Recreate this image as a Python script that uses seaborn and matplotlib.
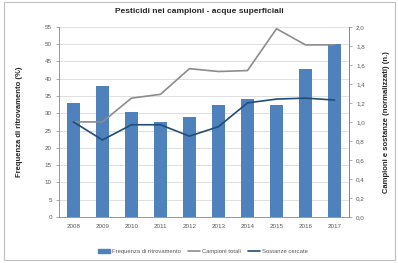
import numpy as np
import pandas as pd
import seaborn as sns
import matplotlib.pyplot as plt
from matplotlib.patches import Rectangle
from matplotlib.lines import Line2D
from matplotlib.patches import Patch

# Dati
anni = ["2008", "2009", "2010", "2011", "2012", "2013", "2014", "2015", "2016", "2017"]
frequenza = [33.1, 37.8, 30.5, 27.4, 28.8, 32.4, 34.0, 32.5, 42.8, 50.1]
campioni_totali = [1.00, 1.00, 1.25, 1.29, 1.56, 1.53, 1.54, 1.98, 1.81, 1.81]
sostanze_cercate = [1.00, 0.81, 0.97, 0.97, 0.85, 0.95, 1.20, 1.24, 1.25, 1.23]

df = pd.DataFrame({"anno": anni, "frequenza": frequenza,
                   "campioni": campioni_totali, "sostanze": sostanze_cercate})
df["pos"] = np.arange(len(df))

sns.set_style("white")
plt.rcParams["font.family"] = ["Liberation Sans", "DejaVu Sans"]

bar_col = "#4F81BD"
grey_col = "#8C8C8C"
dark_col = "#1F4E79"
tick_col = "#595959"

fig = plt.figure(figsize=(3.98, 2.63), dpi=100)
ax = fig.add_axes([0.148, 0.175, 0.729, 0.723])

# Griglia orizzontale
for v in range(5, 60, 5):
    ax.axhline(v, color="#D9D9D9", lw=0.6, zorder=0)

sns.barplot(data=df, x="anno", y="frequenza", color=bar_col, width=0.43,
            saturation=1, linewidth=0, ax=ax, zorder=2)
ax.set_ylim(0, 55)
ax.set_yticks(range(0, 60, 5))
ax.set_xlim(-0.5, len(anni) - 0.5)
ax.set_xlabel("")
ax.set_ylabel("Frequenza di ritrovamento (%)", fontsize=5.5, fontweight="bold", labelpad=16)
ax.tick_params(axis="both", labelsize=4.5, colors="#888888", labelcolor=tick_col,
               length=2, width=0.5, pad=3)
ax.set_xticks(np.arange(len(anni)))
ax.set_xticklabels(anni)
ax.spines["top"].set_visible(False)
for s in ["left", "bottom", "right"]:
    ax.spines[s].set_color("#888888")
    ax.spines[s].set_linewidth(0.6)

ax2 = ax.twinx()
sns.lineplot(data=df, x="pos", y="campioni", color=grey_col, lw=1.2, ax=ax2, zorder=3)
sns.lineplot(data=df, x="pos", y="sostanze", color=dark_col, lw=1.2, ax=ax2, zorder=3)
ax2.set_ylim(0, 2.0)
ax2.set_yticks(np.arange(0, 2.01, 0.2))
ax2.set_yticklabels([f"{v:.1f}".replace(".", ",") for v in np.arange(0, 2.01, 0.2)])
ax2.set_xlim(-0.5, len(anni) - 0.5)
ax2.set_ylabel("Campioni e sostanze (normalizzati) (n.)", fontsize=5.5,
               fontweight="bold", labelpad=13)
ax2.tick_params(axis="y", labelsize=4.5, colors="#888888", labelcolor=tick_col,
                length=2, width=0.5, pad=3)
ax2.spines["top"].set_visible(False)
ax2.spines["right"].set_color("#888888")
ax2.spines["right"].set_linewidth(0.6)
ax2.spines["left"].set_visible(False)
ax2.spines["bottom"].set_visible(False)

fig.text(0.5, 0.955, "Pesticidi nei campioni - acque superficiali", ha="center",
         va="center", fontsize=6, fontweight="bold")

handles = [Patch(color=bar_col, label="Frequenza di ritrovamento"),
           Line2D([], [], color=grey_col, lw=1.2, label="Campioni totali"),
           Line2D([], [], color=dark_col, lw=1.2, label="Sostanze cercate")]
fig.legend(handles=handles, loc="center", bbox_to_anchor=(0.51, 0.043), ncol=3,
           frameon=False, fontsize=4.2, handlelength=2.0, handleheight=0.6,
           columnspacing=1.3, handletextpad=0.3, labelcolor=tick_col)

# Cornice esterna
fig.patches.append(Rectangle((0.01, 0.012), 0.982, 0.98, transform=fig.transFigure,
                             fill=False, edgecolor="#BFBFBF", lw=0.8))

fig.savefig("out.png", dpi=100)
